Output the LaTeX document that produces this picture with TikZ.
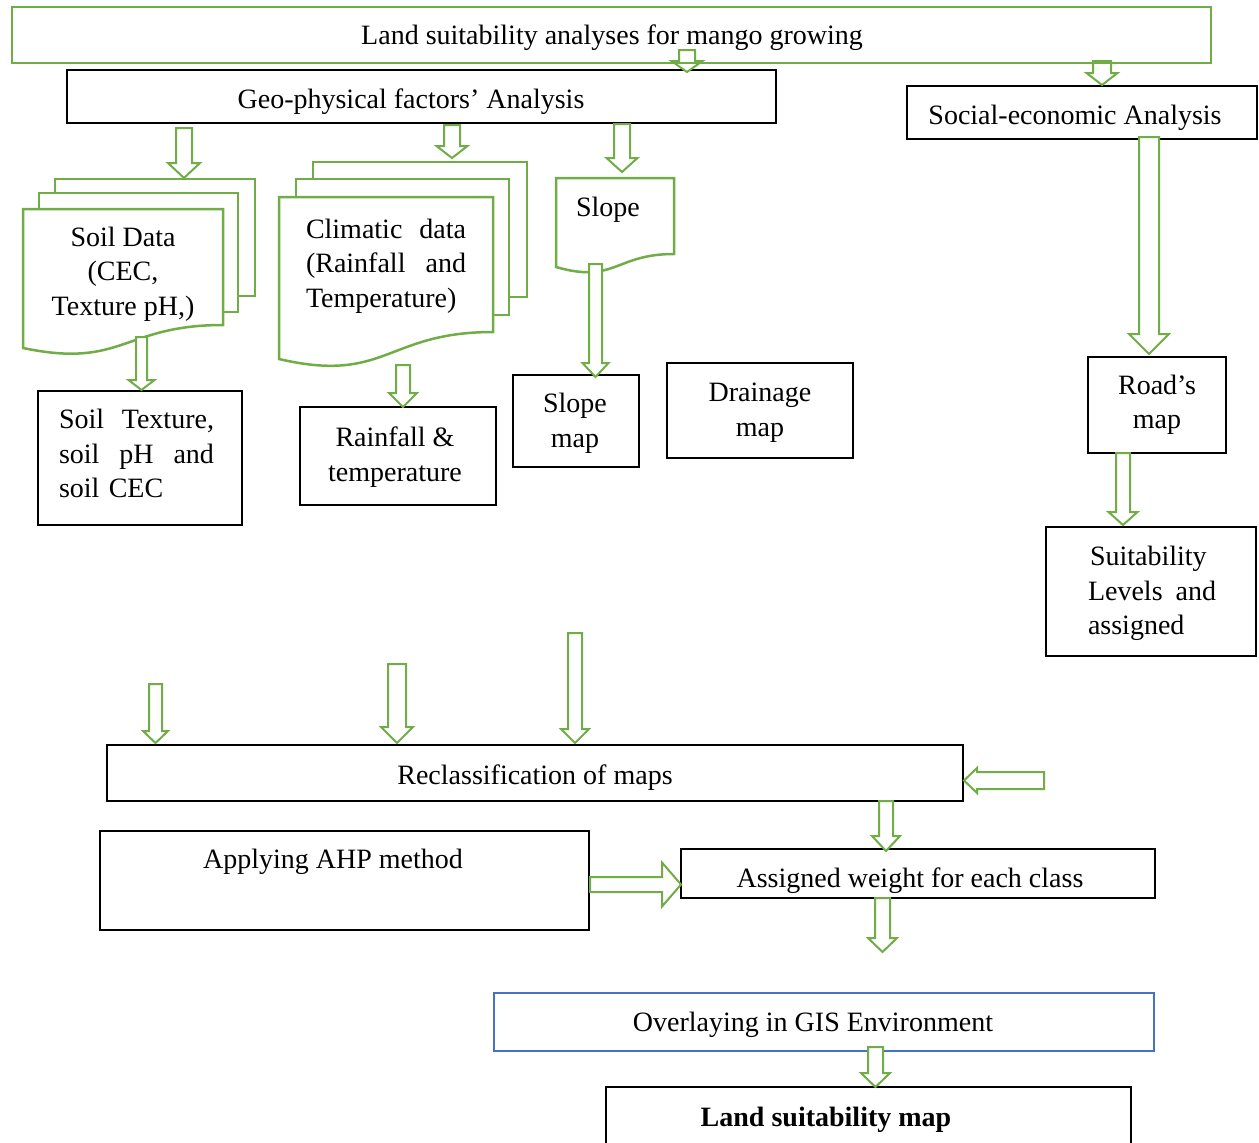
\documentclass[tikz,border=0pt]{standalone}
\usepackage{fontspec}
\setmainfont{Liberation Serif}
\definecolor{grn}{HTML}{70AD47}
\definecolor{blu}{HTML}{4472C4}
\tikzset{
  bx/.style={draw=black, line width=2.6pt, fill=white, inner sep=0pt, rectangle},
  gbx/.style={draw=grn, line width=2.6pt, inner sep=0pt, rectangle},
  bbx/.style={draw=blu, line width=2.6pt, fill=white, inner sep=0pt, rectangle},
  txt/.style={font=\fontsize{28}{34.5}\selectfont, inner sep=0pt, align=center},
  garrow/.style={draw=grn, line width=2pt, fill=white, line join=miter},
  docsh/.style={draw=grn, line width=2.5pt, fill=white, line join=miter},
}
% down block arrow: cx, top, tip, shaft half width, head half width, head length
\newcommand\gArrowDown[6]{\draw[garrow] ({#1-#4},#2) -- ({#1+#4},#2) -- ({#1+#4},{#3-#6}) -- ({#1+#5},{#3-#6}) -- (#1,#3) -- ({#1-#5},{#3-#6}) -- ({#1-#4},{#3-#6}) -- cycle;}
% right block arrow: tail x, tip x, cy, shaft hw, head hw, head len
\newcommand\gArrowRight[6]{\draw[garrow] (#1,{#3-#4}) -- ({#2-#6},{#3-#4}) -- ({#2-#6},{#3-#5}) -- (#2,#3) -- ({#2-#6},{#3+#5}) -- ({#2-#6},{#3+#4}) -- (#1,{#3+#4}) -- cycle;}
% left block arrow: tail x, tip x, cy, shaft hw, head hw, head len
\newcommand\gArrowLeft[6]{\draw[garrow] (#1,{#3-#4}) -- ({#2+#6},{#3-#4}) -- ({#2+#6},{#3-#5}) -- (#2,#3) -- ({#2+#6},{#3+#5}) -- ({#2+#6},{#3+#4}) -- (#1,{#3+#4}) -- cycle;}
% document shape: x0, x1, top, right-bottom y, left-bottom y, control y
\newcommand\gDoc[6]{\draw[docsh] (#1,#3) -- (#2,#3) -- (#2,#4) .. controls ({(#1+#2)/2},#4) and ({(#1+#2)/2},#6) .. (#1,#5) -- cycle;}
\begin{document}
\begin{tikzpicture}[x=1pt,y=-1pt]
\useasboundingbox (0,0) rectangle (1259,1143);
\clip (0,0) rectangle (1259,1143);

% boxes
\node[bx, minimum width=709, minimum height=53] (geo) at (421.5,96.5) {};
\node[bx, minimum width=350, minimum height=53] (social) at (1082,112.5) {};
\node[bx, minimum width=204, minimum height=134] (soiltex) at (140,458) {};
\node[bx, minimum width=196, minimum height=98] (rain) at (398,456) {};
\node[bx, minimum width=126, minimum height=92] (slopemap) at (576,421) {};
\node[bx, minimum width=186, minimum height=95] (drain) at (760,410.5) {};
\node[bx, minimum width=138, minimum height=96] (road) at (1157,405) {};
\node[bx, minimum width=210, minimum height=129] (suit) at (1151,591.5) {};
\node[bx, minimum width=856, minimum height=56] (reclass) at (535,773) {};
\node[bx, minimum width=489, minimum height=99] (ahp) at (344.5,880.5) {};
\node[bx, minimum width=474, minimum height=49] (assigned) at (918,873.5) {};
\node[bbx, minimum width=660, minimum height=58] (overlay) at (824,1022) {};
\node[bx, minimum width=525, minimum height=83] (landmap) at (868.5,1128.5) {};

% soil multi-document
\draw[docsh] (55,179) rectangle (255,296);
\draw[docsh] (39,193) rectangle (238,312);
\gDoc{23}{223}{209}{325}{348}{369}
% climatic multi-document
\draw[docsh] (313,162) rectangle (527,297);
\draw[docsh] (296,179) rectangle (509,315);
\gDoc{279}{493}{197}{332}{359}{384}
% slope document
\gDoc{556}{674}{178}{254}{267}{284}

% arrows
\gArrowDown{687}{50}{72}{8}{15.5}{11}
\gArrowDown{1102}{61}{85}{9}{15.5}{12}
\node[gbx, minimum width=1199, minimum height=56] (top) at (611.5,35) {};
\gArrowDown{184}{128}{178}{8}{16}{15}
\gArrowDown{452}{125}{158}{8}{15.5}{12}
\gArrowDown{622}{124}{172}{8}{15.5}{14}
\gArrowDown{141.5}{337}{390}{5.5}{13}{10}
\gArrowDown{403}{365}{407}{7}{14}{14}
\gArrowDown{595.5}{264}{377}{6.5}{13}{14}
\gArrowDown{1149}{137}{354}{10}{20}{20}
\gArrowDown{1123}{453}{525}{7}{14.5}{13}
\gArrowDown{155.5}{684}{743}{6.5}{12.5}{12}
\gArrowDown{397}{664}{743}{9}{16}{16}
\gArrowDown{575}{633}{743}{7}{14}{14}
\gArrowLeft{1044}{964}{780.5}{8.5}{12.5}{13}
\gArrowDown{886}{801}{851}{7}{14}{15}
\gArrowRight{590}{681}{884.5}{7.5}{22}{19}
\gArrowDown{882.5}{898}{952}{7.5}{14.5}{14}
\gArrowDown{875.5}{1047}{1087}{7.5}{14.5}{14}

% texts
\node[txt] (t-top) at (612,37.5) {Land suitability analyses for mango growing};
\node[txt] (t-geo) at (411,101.5) {Geo-physical factors’ Analysis};
\node[txt] (t-social) at (1075,117.5) {Social-economic Analysis};
\node[txt] (t-soil) at (123,274) {Soil Data\\(CEC,\\Texture pH,)};
\node[txt, text width=160, align=left] (t-clim) at (386,266) {Climatic\hfill data\\(Rainfall\hfill and\\Temperature)};
\node[txt] (t-slope) at (608,209.5) {Slope};
\node[txt, text width=155, align=left] (t-soiltex) at (136.5,453.5) {Soil\hfill Texture,\\soil\hfill pH\hfill and\\soil CEC};
\node[txt] (t-rain) at (395,457) {Rainfall \&\\temperature};
\node[txt] (t-slopemap) at (575,423.5) {Slope\\map};
\node[txt] (t-drain) at (760,412.5) {Drainage\\map};
\node[txt] (t-road) at (1157,405) {Road’s\\map};
\node[txt, text width=128, align=left] (t-suit) at (1152,593.5) {\hspace*{2pt}Suitability\\Levels\hfill and\\assigned};
\node[txt] (t-reclass) at (535,777.5) {Reclassification of maps};
\node[txt] (t-ahp) at (333,861.5) {Applying AHP method};
\node[txt] (t-assigned) at (910,880.5) {Assigned weight for each class};
\node[txt] (t-overlay) at (813,1024.5) {Overlaying in GIS Environment};
\node[txt, font=\fontsize{28}{34.5}\selectfont\bfseries] (t-land) at (826,1119.5) {Land suitability map};
\end{tikzpicture}
\end{document}
